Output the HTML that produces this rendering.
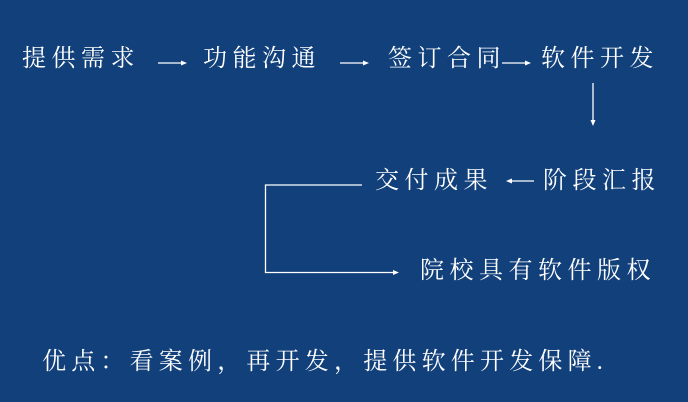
<!DOCTYPE html>
<html><head><meta charset="utf-8"><style>
html,body{margin:0;padding:0}
body{width:688px;height:402px;background:#12407b;position:relative;overflow:hidden;font-family:"Liberation Serif","Noto Serif CJK SC",serif;color:#fff}
.t{position:absolute;font-size:24px;line-height:30px;white-space:nowrap;letter-spacing:5.5px}
</style></head><body>
<div class="t" style="left:22px;top:44px">提供需求</div>
<div class="t" style="left:203px;top:44px">功能沟通</div>
<div class="t" style="left:388px;top:44px">签订合同</div>
<div class="t" style="left:541px;top:44px">软件开发</div>
<div class="t" style="left:375px;top:166px">交付成果</div>
<div class="t" style="left:543px;top:166px">阶段汇报</div>
<div class="t" style="left:420px;top:256px">院校具有软件版权</div>
<div class="t" style="left:42px;top:347px;letter-spacing:5.2px">优点：看案例，再开发，提供软件开发保障.</div>
<svg width="688" height="402" style="position:absolute;left:0;top:0" fill="#fff" stroke="#fff">
<g stroke-width="1.3">
<line x1="158" y1="63" x2="182" y2="63"/><polygon points="187,63 181,60.5 181,65.5" stroke="none"/>
<line x1="340" y1="63" x2="364" y2="63"/><polygon points="369,63 363,60.5 363,65.5" stroke="none"/>
<line x1="502" y1="63" x2="526" y2="63"/><polygon points="531,63 525,60.5 525,65.5" stroke="none"/>
<line x1="593" y1="83" x2="593" y2="121"/><polygon points="593,126 590.5,120 595.5,120" stroke="none"/>
<line x1="512" y1="181" x2="534" y2="181"/><polygon points="506,181 512,178.5 512,183.5" stroke="none"/>
<polyline fill="none" points="362,185 265.5,185 265.5,272.5 393,272.5"/><polygon points="399,272.5 393,270 393,275" stroke="none"/>
</g>
</svg>
</body></html>
